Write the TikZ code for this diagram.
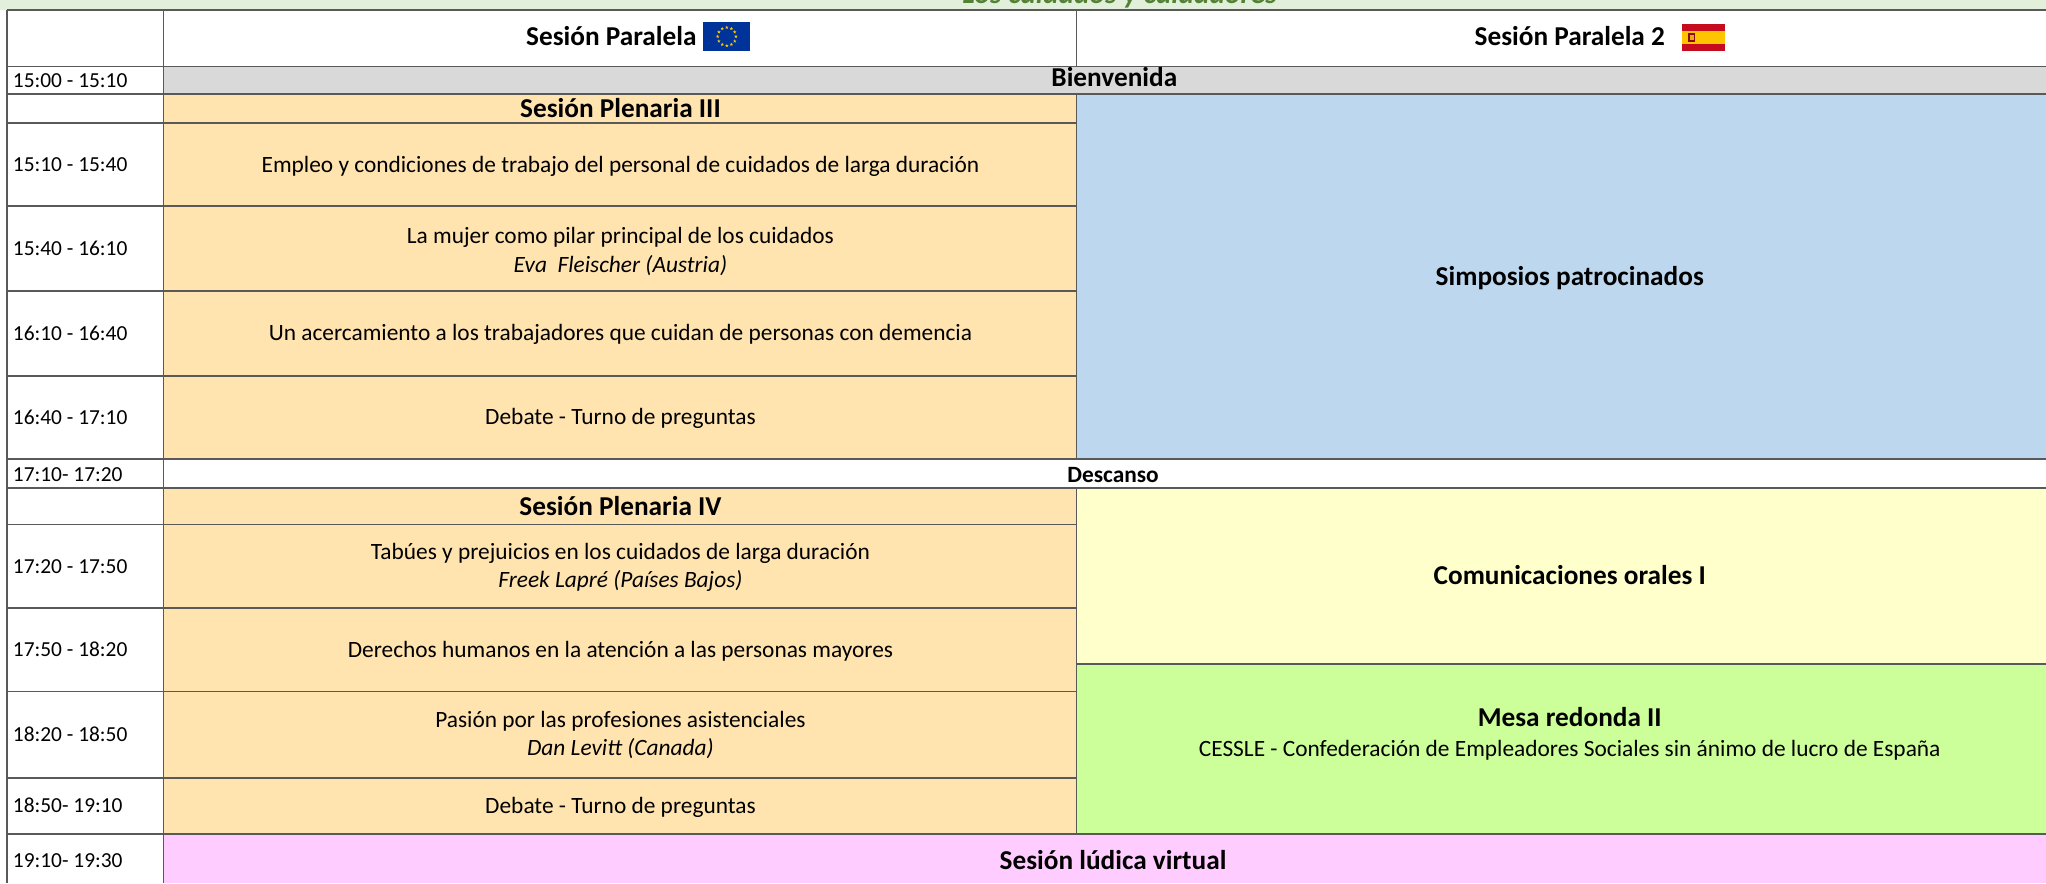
\documentclass[tikz,border=0pt]{standalone}
\usepackage{fontspec}
\setmainfont{Carlito}
\definecolor{gbar}{HTML}{E2EFDA}
\definecolor{grayrow}{HTML}{D9D9D9}
\definecolor{orng}{HTML}{FFE4B0}
\definecolor{blu}{HTML}{BDD7EE}
\definecolor{yel}{HTML}{FFFFCC}
\definecolor{grn}{HTML}{CCFF99}
\definecolor{pnk}{HTML}{FFCCFF}
\definecolor{gridc}{HTML}{595959}
\definecolor{titlegreen}{HTML}{548235}
\definecolor{eublue}{HTML}{003399}
\definecolor{euyel}{HTML}{FFCC00}
\definecolor{esred}{HTML}{C60B1E}
\definecolor{esyel}{HTML}{FFC400}
\begin{document}
\begin{tikzpicture}[x=1pt,y=-1pt,
  grid/.style={draw=gridc, line width=1.4pt},
  tm/.style={anchor=base west, inner sep=0pt, font=\fontsize{16.4}{19}\selectfont},
  bd/.style={anchor=base, inner sep=0pt, font=\fontsize{17.9}{21}\selectfont},
  bdi/.style={anchor=base, inner sep=0pt, font=\fontsize{17.9}{21}\selectfont\itshape},
  hd/.style={anchor=base, inner sep=0pt, font=\fontsize{20.9}{24}\selectfont\bfseries},
  hs/.style={anchor=base, inner sep=0pt, font=\fontsize{17.9}{21}\selectfont\bfseries}]
\useasboundingbox (0,0) rectangle (1568,677);
% backgrounds
\fill[white] (0,0) rectangle (1568,677);
\fill[gbar] (0,0) rectangle (1568,7.5);
\fill[grayrow] (125.3,51) rectangle (1568,72);
\fill[orng] (125.3,72) rectangle (825,352);
\fill[orng] (125.3,374) rectangle (825,639);
\fill[blu] (825,72) rectangle (1568,352);
\fill[yel] (825,374) rectangle (1568,509);
\fill[grn] (825,509) rectangle (1568,639);
\fill[pnk] (125.3,639) rectangle (1568,677);
% cut-off title
\begin{scope}
\clip (0,0) rectangle (1568,7.5);
\node[anchor=base, inner sep=0pt, text=titlegreen, font=\fontsize{22.5}{26}\selectfont\bfseries\itshape] (title) at (858,3) {Los cuidados y cuidadores};
\end{scope}
% grid lines
\foreach \yy in {7.5,51,72,352,374,639}{\draw[grid] (5.6,\yy) -- (1568,\yy);}
\foreach \yy in {94,158,223,288,402,466,530,596}{\draw[grid] (5.6,\yy) -- (825,\yy);}
\draw[grid] (825,509) -- (1568,509);
\draw[grid] (5.6,7.5) -- (5.6,677);
\draw[grid] (125.3,7.5) -- (125.3,677);
\draw[grid] (825,7.5) -- (825,51);
\draw[grid] (825,72) -- (825,352);
\draw[grid] (825,374) -- (825,639);
% flags
\fill[eublue] (539,17) rectangle (575,39);
\foreach \a in {0,30,...,330}{
  \fill[euyel, shift={(557,28)}, shift={(\a:7)}] (270:1.4) -- (306:0.55) -- (342:1.4) -- (18:0.55) -- (54:1.4) -- (90:0.55) -- (126:1.4) -- (162:0.55) -- (198:1.4) -- (234:0.55) -- cycle;
}
\fill[esred] (1289,18.4) rectangle (1322,39);
\fill[esyel] (1289,23.6) rectangle (1322,33.8);
\fill[esred!70!black] (1294,25.5) rectangle (1299,32);
\fill[esyel!60!brown] (1295,26.5) rectangle (1298,30.5);
% header texts
\node[hd] (sp1) at (468.5,35) {Sesión Paralela};
\node[hd] (sp2) at (1203,35) {Sesión Paralela 2};
% time labels
\node[tm] (t1) at (9.7,66.7) {15:00 - 15:10};
\node[tm] (t2) at (9.7,131.2) {15:10 - 15:40};
\node[tm] (t3) at (9.7,195.7) {15:40 - 16:10};
\node[tm] (t4) at (9.7,260.7) {16:10 - 16:40};
\node[tm] (t5) at (9.7,325.2) {16:40 - 17:10};
\node[tm] (t6) at (9.7,368.7) {17:10- 17:20};
\node[tm] (t7) at (9.7,439.2) {17:20 - 17:50};
\node[tm] (t8) at (9.7,503.2) {17:50 - 18:20};
\node[tm] (t9) at (9.7,568.2) {18:20 - 18:50};
\node[tm] (t10) at (9.7,622.8) {18:50- 19:10};
\node[tm] (t11) at (9.7,665.2) {19:10- 19:30};
% full-row items
\node[hd] (bien) at (854,66) {Bienvenida};
\node[hs] (desc) at (853,369.7) {Descanso};
\node[hd] (ludi) at (853,666.7) {Sesión lúdica virtual};
% column 1
\node[hd] (p3) at (475.5,89.7) {Sesión Plenaria III};
\node[bd] (a1) at (475.5,132) {Empleo y condiciones de trabajo del personal de cuidados de larga duración};
\node[bd] (a2) at (475.5,186.7) {La mujer como pilar principal de los cuidados};
\node[bdi] (a2s) at (475.5,208.7) {Eva~~Fleischer (Austria)};
\node[bd] (a3) at (475.5,261) {Un acercamiento a los trabajadores que cuidan de personas con demencia};
\node[bd] (a4) at (475.5,325.7) {Debate - Turno de preguntas};
\node[hd] (p4) at (475.5,394.7) {Sesión Plenaria IV};
\node[bd] (b1) at (475.5,428.4) {Tabúes y prejuicios en los cuidados de larga duración};
\node[bdi] (b1s) at (475.5,450) {Freek Lapré (Países Bajos)};
\node[bd] (b2) at (475.5,503.7) {Derechos humanos en la atención a las personas mayores};
\node[bd] (b3) at (475.5,557.7) {Pasión por las profesiones asistenciales};
\node[bdi] (b3s) at (475.5,578.7) {Dan Levitt (Canada)};
\node[bd] (b4) at (475.5,623.2) {Debate - Turno de preguntas};
% column 2
\node[hd] (simp) at (1203,219) {Simposios patrocinados};
\node[hd] (com) at (1203,448.2) {Comunicaciones orales I};
\node[hd] (mesa) at (1203,556.7) {Mesa redonda II};
\node[bd] (cess) at (1203,579.7) {CESSLE - Confederación de Empleadores Sociales sin ánimo de lucro de España};
\end{tikzpicture}
\end{document}
